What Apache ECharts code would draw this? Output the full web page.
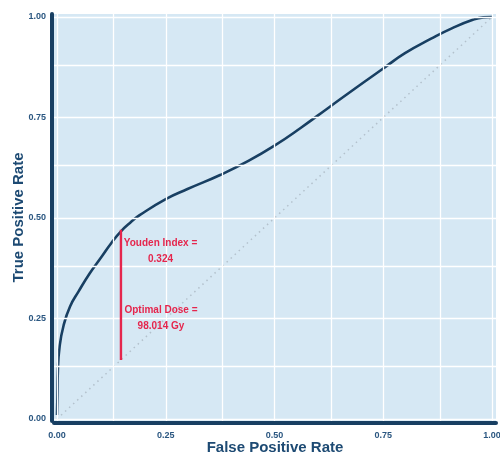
<!DOCTYPE html>
<html>
<head>
<meta charset="utf-8">
<script src="https://cdn.jsdelivr.net/npm/echarts@6/dist/echarts.min.js"></script>
<style>html,body{margin:0;padding:0;background:#fff}#c{width:500px;height:453px}</style>
</head>
<body>
<div id="c"></div>
<script>
// ROC curve data
const fpr = [0, 0.001, 0.002, 0.006, 0.015, 0.03, 0.05, 0.075, 0.1, 0.125, 0.147, 0.17, 0.19, 0.25, 0.3, 0.375, 0.44, 0.5, 0.56, 0.625, 0.69, 0.75, 0.8, 0.86, 0.91, 0.956, 0.98, 1.0];
const tpr = [0.01, 0.06, 0.12, 0.18, 0.232, 0.28, 0.318, 0.362, 0.4, 0.438, 0.467, 0.49, 0.507, 0.547, 0.572, 0.607, 0.642, 0.68, 0.724, 0.775, 0.826, 0.872, 0.91, 0.946, 0.973, 0.993, 0.999, 1.0];
const diagX = [0, 1];
const diagY = [0, 1];
const optimalFpr = 0.147;
const optimalTpr = 0.471;
const youdenText = 'Youden Index =\n0.324';
const doseText = 'Optimal Dose =\n98.014 Gy';
const youdenPos = [0.238, 0.418];
const dosePos = [0.239, 0.251];
const tickValues = [0, 0.25, 0.5, 0.75, 1];
const gridValues = [0, 0.125, 0.25, 0.375, 0.5, 0.625, 0.75, 0.875, 1];

const navy = '#183f62';
const red = '#e5264d';
const labelColor = '#2a5680';

const chart = echarts.init(document.getElementById('c'), null, {renderer: 'canvas'});

const gridMarks = {
  silent: true,
  symbol: ['none', 'none'],
  label: {show: false},
  lineStyle: {color: '#ffffff', width: 1.3, type: 'solid'},
  emphasis: {disabled: true},
  animation: false,
  data: gridValues.map(v => ({xAxis: v})).concat(gridValues.map(v => ({yAxis: v})))
};

const axisCommon = {
  type: 'value',
  splitLine: {show: false},
  axisTick: {show: false},
  axisLine: {show: true, onZero: false, lineStyle: {color: navy, width: 4}},
  nameLocation: 'middle',
  nameMoveOverlap: false,
  nameTextStyle: {color: '#1d4a73', fontWeight: 'bold', fontSize: 15, fontFamily: 'Liberation Sans, Arial, sans-serif'}
};

chart.setOption({
  animation: false,
  backgroundColor: '#ffffff',
  grid: {left: 54, right: 4, top: 14, bottom: 32, show: true, backgroundColor: '#d6e8f4', borderWidth: 0, containLabel: false, outerBoundsMode: 'none'},
  xAxis: Object.assign({}, axisCommon, {
    min: -0.0069, max: 1.0092,
    offset: 2,
    name: 'False Positive Rate',
    nameGap: 17,
    axisLabel: {customValues: tickValues, formatter: v => v.toFixed(2), color: labelColor, fontWeight: 'bold', fontSize: 9, margin: 8, fontFamily: 'Liberation Sans, Arial, sans-serif'}
  }),
  yAxis: Object.assign({}, axisCommon, {
    min: -0.005, max: 1.0075,
    offset: 2,
    name: 'True Positive Rate',
    nameGap: 26,
    axisLabel: {customValues: tickValues, formatter: v => v.toFixed(2), color: labelColor, fontWeight: 'bold', fontSize: 9, margin: 6, fontFamily: 'Liberation Sans, Arial, sans-serif'}
  }),
  series: [
    {
      type: 'line', name: 'grid', data: [], markLine: gridMarks, silent: true, z: 1
    },
    {
      type: 'line', name: 'chance', symbol: 'none', silent: true, z: 3,
      data: diagX.map((x, i) => [x, diagY[i]]),
      lineStyle: {color: '#b3c1cc', width: 1.5, type: [1.5, 4]}
    },
    {
      type: 'line', name: 'roc', symbol: 'none', smooth: 0.5, silent: true, z: 4,
      data: fpr.map((x, i) => [x, tpr[i]]),
      lineStyle: {color: navy, width: 2.6}
    },
    {
      type: 'line', name: 'youden', symbol: 'none', silent: true, z: 5,
      data: [[optimalFpr, optimalFpr], [optimalFpr, optimalTpr]],
      lineStyle: {color: red, width: 2.4},
      markPoint: {
        silent: true,
        symbol: 'circle', symbolSize: 0,
        label: {show: true, position: 'inside', color: red, fontWeight: 'bold', fontSize: 10, lineHeight: 16, align: 'center', verticalAlign: 'middle', fontFamily: 'Liberation Sans, Arial, sans-serif'},
        data: [
          {coord: youdenPos, value: 0, label: {formatter: youdenText}},
          {coord: dosePos, value: 0, label: {formatter: doseText}}
        ]
      }
    }
  ]
});
</script>
</body>
</html>
